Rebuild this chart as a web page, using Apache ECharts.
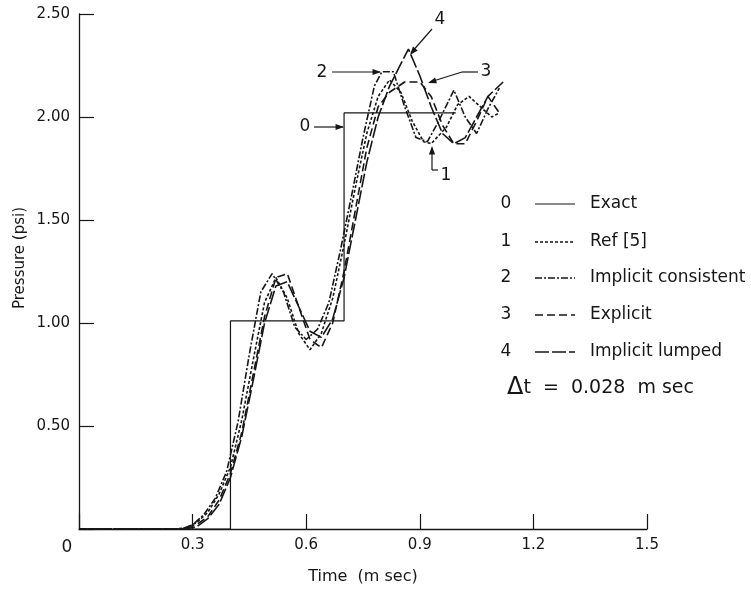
<!DOCTYPE html>
<html><head><meta charset="utf-8">
<script src="https://cdn.jsdelivr.net/npm/echarts@6/dist/echarts.min.js"></script>
<style>html,body{margin:0;padding:0;background:#fff}#c{width:751px;height:590px}</style>
</head><body><div id="c"></div>
<script>
// ---- data ----
var xTicks = [0, 0.3, 0.6, 0.9, 1.2, 1.5];
var yTicks = [0, 0.5, 1.0, 1.5, 2.0, 2.5];
var seriesNames = ['Exact', 'Ref [5]', 'Implicit consistent', 'Explicit', 'Implicit lumped'];
var exact = [[0,0],[0.4,0],[0.4,1.01],[0.7,1.01],[0.7,2.02],[0.995,2.02]];
var ref5 = [[0,0],[0.25,0],[0.28,0.005],[0.31,0.03],[0.34,0.08],[0.37,0.17],[0.40,0.30],[0.43,0.53],[0.46,0.82],[0.49,1.10],[0.52,1.22],[0.55,1.12],[0.58,0.95],[0.61,0.87],[0.64,0.95],[0.67,1.12],[0.70,1.38],[0.73,1.66],[0.76,1.92],[0.79,2.10],[0.82,2.18],[0.85,2.12],[0.88,1.98],[0.91,1.88],[0.93,1.87],[0.97,1.95],[1.00,2.06],[1.03,2.10],[1.06,2.05],[1.09,2.00],[1.11,2.02]];
var implicitConsistent = [[0,0],[0.27,0],[0.30,0.02],[0.33,0.07],[0.36,0.15],[0.39,0.28],[0.42,0.52],[0.45,0.85],[0.48,1.15],[0.51,1.24],[0.54,1.15],[0.57,0.98],[0.60,0.92],[0.63,0.97],[0.66,1.10],[0.69,1.35],[0.72,1.62],[0.75,1.90],[0.78,2.15],[0.80,2.22],[0.83,2.22],[0.86,2.05],[0.89,1.90],[0.92,1.88],[0.95,1.98],[0.99,2.13],[1.02,2.00],[1.05,1.92],[1.08,2.04],[1.11,2.14]];
var explicit = [[0,0],[0.28,0],[0.31,0.02],[0.34,0.06],[0.37,0.14],[0.40,0.27],[0.43,0.47],[0.46,0.75],[0.49,1.03],[0.52,1.22],[0.55,1.24],[0.58,1.08],[0.61,0.92],[0.64,0.88],[0.67,1.00],[0.70,1.25],[0.73,1.55],[0.76,1.85],[0.79,2.05],[0.82,2.12],[0.86,2.17],[0.90,2.17],[0.93,2.10],[0.96,1.96],[0.99,1.87],[1.02,1.87],[1.05,1.98],[1.08,2.10],[1.11,2.02]];
var implicitLumped = [[0,0],[0.28,0],[0.31,0.01],[0.34,0.05],[0.37,0.12],[0.40,0.25],[0.43,0.45],[0.46,0.72],[0.49,1.00],[0.52,1.18],[0.55,1.20],[0.58,1.08],[0.61,0.96],[0.64,0.93],[0.67,1.02],[0.70,1.22],[0.73,1.50],[0.76,1.78],[0.79,2.00],[0.82,2.15],[0.87,2.33],[0.90,2.20],[0.93,2.05],[0.96,1.92],[0.99,1.87],[1.02,1.90],[1.05,2.00],[1.08,2.10],[1.12,2.17]];

var FONT = 'DejaVu Sans';
var INK = '#161616';
var dashes = [null, [3,2], [7,2,2,2], [8,4], [14,3]];
var widths = [1.2, 1.6, 1.6, 1.6, 1.6];
var allData = [exact, ref5, implicitConsistent, explicit, implicitLumped];

var chart = echarts.init(document.getElementById('c'));
var series = allData.map(function(d, i){
  return {
    name: seriesNames[i], type: 'line', data: d, symbol: 'none', smooth: false,
    lineStyle: {color: INK, width: widths[i], type: dashes[i] || 'solid'},
    z: i === 0 ? 3 : 2, silent: true
  };
});

// legend + annotations as graphics
var g = [];
var rowY = [204, 242, 278, 315, 352];
for (var i = 0; i < 5; i++) {
  g.push({type:'text', x: 506, y: rowY[i], style:{text: String(i), font: '17px ' + FONT, fill: INK, align:'center', verticalAlign:'middle'}});
  g.push({type:'line', shape:{x1:535, y1:rowY[i], x2:575, y2:rowY[i]}, style:{stroke: INK, lineWidth: widths[i], lineDash: dashes[i] || null}});
  g.push({type:'text', x: 590, y: rowY[i], style:{text: seriesNames[i], font: '17px ' + FONT, fill: INK, verticalAlign:'middle'}});
}
g.push({type:'text', x: 507, y: 388, style:{
  text: '{d|Δ}{t|t  =  0.028  m sec}', verticalAlign:'middle',
  rich: {d:{fontFamily:FONT, fontSize:24, fill:INK}, t:{fontFamily:FONT, fontSize:19, fill:INK}}
}});
// plot annotations
function label(t, x, y){ g.push({type:'text', x:x, y:y, style:{text:t, font:'17px ' + FONT, fill:INK, align:'center', verticalAlign:'middle'}}); }
function seg(x1,y1,x2,y2){ g.push({type:'line', shape:{x1:x1,y1:y1,x2:x2,y2:y2}, style:{stroke:INK, lineWidth:1.2}}); }
function head(x,y,ang){ // arrowhead pointing toward angle ang (radians)
  var L=9, w=0.35;
  g.push({type:'polygon', shape:{points:[[x,y],[x-L*Math.cos(ang-w), y-L*Math.sin(ang-w)],[x-L*Math.cos(ang+w), y-L*Math.sin(ang+w)]]}, style:{fill:INK}});
}
label('0', 305, 127); seg(314,127,343,127); head(344,127,0);
label('2', 322, 73); seg(332,72,380,72); head(381,72,0);
label('4', 440, 20); seg(432,29,411,53); head(410,55,Math.atan2(55-28,410-432));
label('3', 486, 72); seg(478,72,462,72); seg(462,72,430,82); head(428,83,Math.atan2(83-72,428-462));
label('1', 446, 176); seg(432,148,432,170); seg(432,170,438,170); head(432,146,-Math.PI/2);
// "0" at the origin and y-axis title
label('0', 67, 548);
g.push({type:'text', x: 20, y: 258, rotation: Math.PI/2, style:{text:'Pressure (psi)', font:'15px ' + FONT, fill:INK, align:'center', verticalAlign:'middle'}});

chart.setOption({
  animation: false,
  backgroundColor: '#fff',
  grid: {left: 79, right: 104, top: 14, bottom: 59, containLabel: false},
  xAxis: {
    type: 'value', min: xTicks[0], max: xTicks[xTicks.length-1], interval: 0.3,
    name: 'Time  (m sec)', nameLocation: 'middle', nameGap: 40,
    nameTextStyle: {fontFamily: FONT, fontSize: 16, color: INK},
    axisLine: {lineStyle: {color: INK, width: 1.3}},
    axisTick: {inside: true, length: 15, lineStyle: {color: INK, width: 1.2}},
    axisLabel: {margin: 9, fontFamily: FONT, fontSize: 15, color: INK,
      formatter: function(v){ return v === 0 ? '' : (Math.round(v*10)/10).toFixed(1); }},
    splitLine: {show: false}
  },
  yAxis: {
    type: 'value', min: yTicks[0], max: yTicks[yTicks.length-1], interval: 0.5,
    axisLine: {show: true, lineStyle: {color: INK, width: 1.3}},
    axisTick: {show: true, inside: true, length: 15, lineStyle: {color: INK, width: 1.2}},
    axisLabel: {margin: 9, fontFamily: FONT, fontSize: 15, color: INK,
      formatter: function(v){ return v === 0 ? '' : v.toFixed(2); }},
    splitLine: {show: false}
  },
  series: series,
  graphic: g
});
</script></body></html>
